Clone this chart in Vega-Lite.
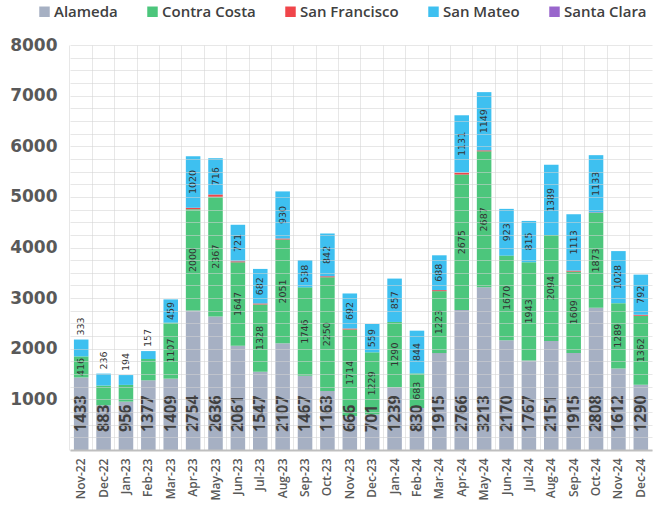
{
  "$schema": "https://vega.github.io/schema/vega-lite/v6.json",
  "width": 582,
  "height": 405,
  "autosize": {"type": "none"},
  "padding": {"left": 70, "top": 45, "right": 1, "bottom": 59},
  "background": "white",
  "config": {"view": {"stroke": null}, "font": "Open Sans"},
  "data": {"values": [
    {"month":"Nov-22","county":"Alameda","value":1433},{"month":"Nov-22","county":"Contra Costa","value":416},{"month":"Nov-22","county":"San Mateo","value":333},
    {"month":"Dec-22","county":"Alameda","value":883},{"month":"Dec-22","county":"Contra Costa","value":390},{"month":"Dec-22","county":"San Mateo","value":236},
    {"month":"Jan-23","county":"Alameda","value":956},{"month":"Jan-23","county":"Contra Costa","value":330},{"month":"Jan-23","county":"San Mateo","value":194},
    {"month":"Feb-23","county":"Alameda","value":1377},{"month":"Feb-23","county":"Contra Costa","value":420},{"month":"Feb-23","county":"San Mateo","value":157},
    {"month":"Mar-23","county":"Alameda","value":1409},{"month":"Mar-23","county":"Contra Costa","value":1107},{"month":"Mar-23","county":"San Mateo","value":459},
    {"month":"Apr-23","county":"Alameda","value":2754},{"month":"Apr-23","county":"Contra Costa","value":2000},{"month":"Apr-23","county":"San Francisco","value":30},{"month":"Apr-23","county":"San Mateo","value":1020},
    {"month":"May-23","county":"Alameda","value":2636},{"month":"May-23","county":"Contra Costa","value":2367},{"month":"May-23","county":"San Francisco","value":45},{"month":"May-23","county":"San Mateo","value":716},
    {"month":"Jun-23","county":"Alameda","value":2061},{"month":"Jun-23","county":"Contra Costa","value":1647},{"month":"Jun-23","county":"San Francisco","value":20},{"month":"Jun-23","county":"San Mateo","value":721},
    {"month":"Jul-23","county":"Alameda","value":1547},{"month":"Jul-23","county":"Contra Costa","value":1328},{"month":"Jul-23","county":"San Francisco","value":20},{"month":"Jul-23","county":"San Mateo","value":682},
    {"month":"Aug-23","county":"Alameda","value":2107},{"month":"Aug-23","county":"Contra Costa","value":2051},{"month":"Aug-23","county":"San Francisco","value":20},{"month":"Aug-23","county":"San Mateo","value":930},
    {"month":"Sep-23","county":"Alameda","value":1467},{"month":"Sep-23","county":"Contra Costa","value":1746},{"month":"Sep-23","county":"San Mateo","value":538},
    {"month":"Oct-23","county":"Alameda","value":1163},{"month":"Oct-23","county":"Contra Costa","value":2250},{"month":"Oct-23","county":"San Francisco","value":20},{"month":"Oct-23","county":"San Mateo","value":842},
    {"month":"Nov-23","county":"Alameda","value":666},{"month":"Nov-23","county":"Contra Costa","value":1714},{"month":"Nov-23","county":"San Francisco","value":20},{"month":"Nov-23","county":"San Mateo","value":692},
    {"month":"Dec-23","county":"Alameda","value":701},{"month":"Dec-23","county":"Contra Costa","value":1229},{"month":"Dec-23","county":"San Mateo","value":559},
    {"month":"Jan-24","county":"Alameda","value":1239},{"month":"Jan-24","county":"Contra Costa","value":1290},{"month":"Jan-24","county":"San Mateo","value":857},
    {"month":"Feb-24","county":"Alameda","value":830},{"month":"Feb-24","county":"Contra Costa","value":683},{"month":"Feb-24","county":"San Mateo","value":844},
    {"month":"Mar-24","county":"Alameda","value":1915},{"month":"Mar-24","county":"Contra Costa","value":1223},{"month":"Mar-24","county":"San Francisco","value":20},{"month":"Mar-24","county":"San Mateo","value":688},
    {"month":"Apr-24","county":"Alameda","value":2766},{"month":"Apr-24","county":"Contra Costa","value":2675},{"month":"Apr-24","county":"San Francisco","value":40},{"month":"Apr-24","county":"San Mateo","value":1131},
    {"month":"May-24","county":"Alameda","value":3213},{"month":"May-24","county":"Contra Costa","value":2687},{"month":"May-24","county":"San Francisco","value":20},{"month":"May-24","county":"San Mateo","value":1149},
    {"month":"Jun-24","county":"Alameda","value":2170},{"month":"Jun-24","county":"Contra Costa","value":1670},{"month":"Jun-24","county":"San Mateo","value":923},
    {"month":"Jul-24","county":"Alameda","value":1767},{"month":"Jul-24","county":"Contra Costa","value":1943},{"month":"Jul-24","county":"San Mateo","value":815},
    {"month":"Aug-24","county":"Alameda","value":2151},{"month":"Aug-24","county":"Contra Costa","value":2094},{"month":"Aug-24","county":"San Mateo","value":1389},
    {"month":"Sep-24","county":"Alameda","value":1915},{"month":"Sep-24","county":"Contra Costa","value":1609},{"month":"Sep-24","county":"San Francisco","value":20},{"month":"Sep-24","county":"San Mateo","value":1113},
    {"month":"Oct-24","county":"Alameda","value":2808},{"month":"Oct-24","county":"Contra Costa","value":1873},{"month":"Oct-24","county":"San Francisco","value":10},{"month":"Oct-24","county":"San Mateo","value":1133},
    {"month":"Nov-24","county":"Alameda","value":1612},{"month":"Nov-24","county":"Contra Costa","value":1289},{"month":"Nov-24","county":"San Mateo","value":1028},
    {"month":"Dec-24","county":"Alameda","value":1290},{"month":"Dec-24","county":"Contra Costa","value":1362},{"month":"Dec-24","county":"San Francisco","value":20},{"month":"Dec-24","county":"San Mateo","value":792}
  ]},
  "encoding": {
    "x": {
      "field": "month", "type": "ordinal",
      "sort": ["Nov-22","Dec-22","Jan-23","Feb-23","Mar-23","Apr-23","May-23","Jun-23","Jul-23","Aug-23","Sep-23","Oct-23","Nov-23","Dec-23","Jan-24","Feb-24","Mar-24","Apr-24","May-24","Jun-24","Jul-24","Aug-24","Sep-24","Oct-24","Nov-24","Dec-24"],
      "scale": {"paddingInner": 0.35, "paddingOuter": 0.175},
      "axis": {
        "title": null, "labelAngle": 270, "labelFont": "Open Sans", "labelFontWeight": 600,
        "labelFontSize": 12, "labelColor": "#595959", "ticks": false,
        "domainColor": "#bfbfbf", "domainWidth": 2, "grid": true, "gridColor": "#d4d4d4",
        "gridWidth": 1, "gridOpacity": 0.55, "bandPosition": -0.27, "zindex": 1, "labelPadding": 8
      }
    },
    "y": {
      "field": "value", "type": "quantitative",
      "scale": {"domain": [0, 8000], "nice": false},
      "axis": {
        "title": null,
        "values": [0,250,500,750,1000,1250,1500,1750,2000,2250,2500,2750,3000,3250,3500,3750,4000,4250,4500,4750,5000,5250,5500,5750,6000,6250,6500,6750,7000,7250,7500,7750,8000],
        "labelExpr": "datum.value % 1000 == 0 && datum.value > 0 ? datum.label : ''",
        "format": "d", "ticks": false, "domain": false, "grid": true,
        "gridColor": "#d4d4d4", "gridWidth": 1, "gridOpacity": 0.55, "labelFont": "DejaVu Sans",
        "labelFontWeight": "bold", "labelFontSize": 17, "labelColor": "#595959",
        "labelPadding": 13, "labelOverlap": false, "zindex": 1
      }
    }
  },
  "layer": [
    {
      "mark": {"type": "bar"},
      "encoding": {
        "y": {
          "field": "value", "type": "quantitative", "stack": "zero"
        },
        "color": {
          "field": "county", "type": "nominal",
          "scale": {
            "domain": ["Alameda","Contra Costa","San Francisco","San Mateo","Santa Clara"],
            "range": ["#a6b0c3","#4cc67c","#f0454a","#3ec0f0","#9966cc"]
          },
          "legend": {
            "orient": "none", "legendX": -33, "legendY": -41, "direction": "horizontal",
            "title": null, "symbolType": "square", "symbolSize": 110, "symbolStrokeWidth": 0,
            "symbolOpacity": 1, "labelFont": "Open Sans", "labelFontSize": 15,
            "labelFontWeight": 600, "labelColor": "#404040", "columnPadding": 27,
            "labelOffset": 2, "padding": 0
          }
        },
        "order": {"field": "county", "type": "nominal"}
      }
    },
    {
      "transform": [
        {"stack": "value", "groupby": ["month"], "sort": [{"field": "county", "order": "ascending"}], "as": ["v0", "v1"]},
        {"filter": "(datum.county == 'Contra Costa' && indexof(['Dec-22','Jan-23','Feb-23'], datum.month) < 0) || (datum.county == 'San Mateo' && indexof(['Nov-22','Dec-22','Jan-23','Feb-23'], datum.month) < 0)"},
        {"calculate": "(datum.v0 + datum.v1) / 2", "as": "mid"}
      ],
      "mark": {"type": "text", "angle": 270, "align": "center", "baseline": "middle", "font": "DejaVu Sans", "fontSize": 9.5, "color": "#333333"},
      "encoding": {
        "y": {"field": "mid", "type": "quantitative"},
        "text": {"field": "value", "type": "quantitative", "format": "d"}
      }
    },
    {
      "transform": [
        {"stack": "value", "groupby": ["month"], "sort": [{"field": "county", "order": "ascending"}], "as": ["v0", "v1"]},
        {"filter": "datum.county == 'San Mateo' && indexof(['Nov-22','Dec-22','Jan-23','Feb-23'], datum.month) >= 0"}
      ],
      "mark": {"type": "text", "angle": 270, "align": "left", "baseline": "middle", "dx": 4, "font": "DejaVu Sans", "fontSize": 9.5, "color": "#333333"},
      "encoding": {
        "y": {"field": "v1", "type": "quantitative"},
        "text": {"field": "value", "type": "quantitative", "format": "d"}
      }
    },
    {
      "transform": [
        {"stack": "value", "groupby": ["month"], "sort": [{"field": "county", "order": "ascending"}], "as": ["v0", "v1"]},
        {"filter": "datum.county == 'Alameda'"}
      ],
      "mark": {"type": "text", "angle": 270, "align": "left", "baseline": "middle", "dx": 18, "font": "Open Sans", "fontWeight": 700, "fontSize": 16, "color": "#404040"},
      "encoding": {
        "y": {"field": "v0", "type": "quantitative"},
        "text": {"field": "value", "type": "quantitative", "format": "d"}
      }
    }
  ]
}
